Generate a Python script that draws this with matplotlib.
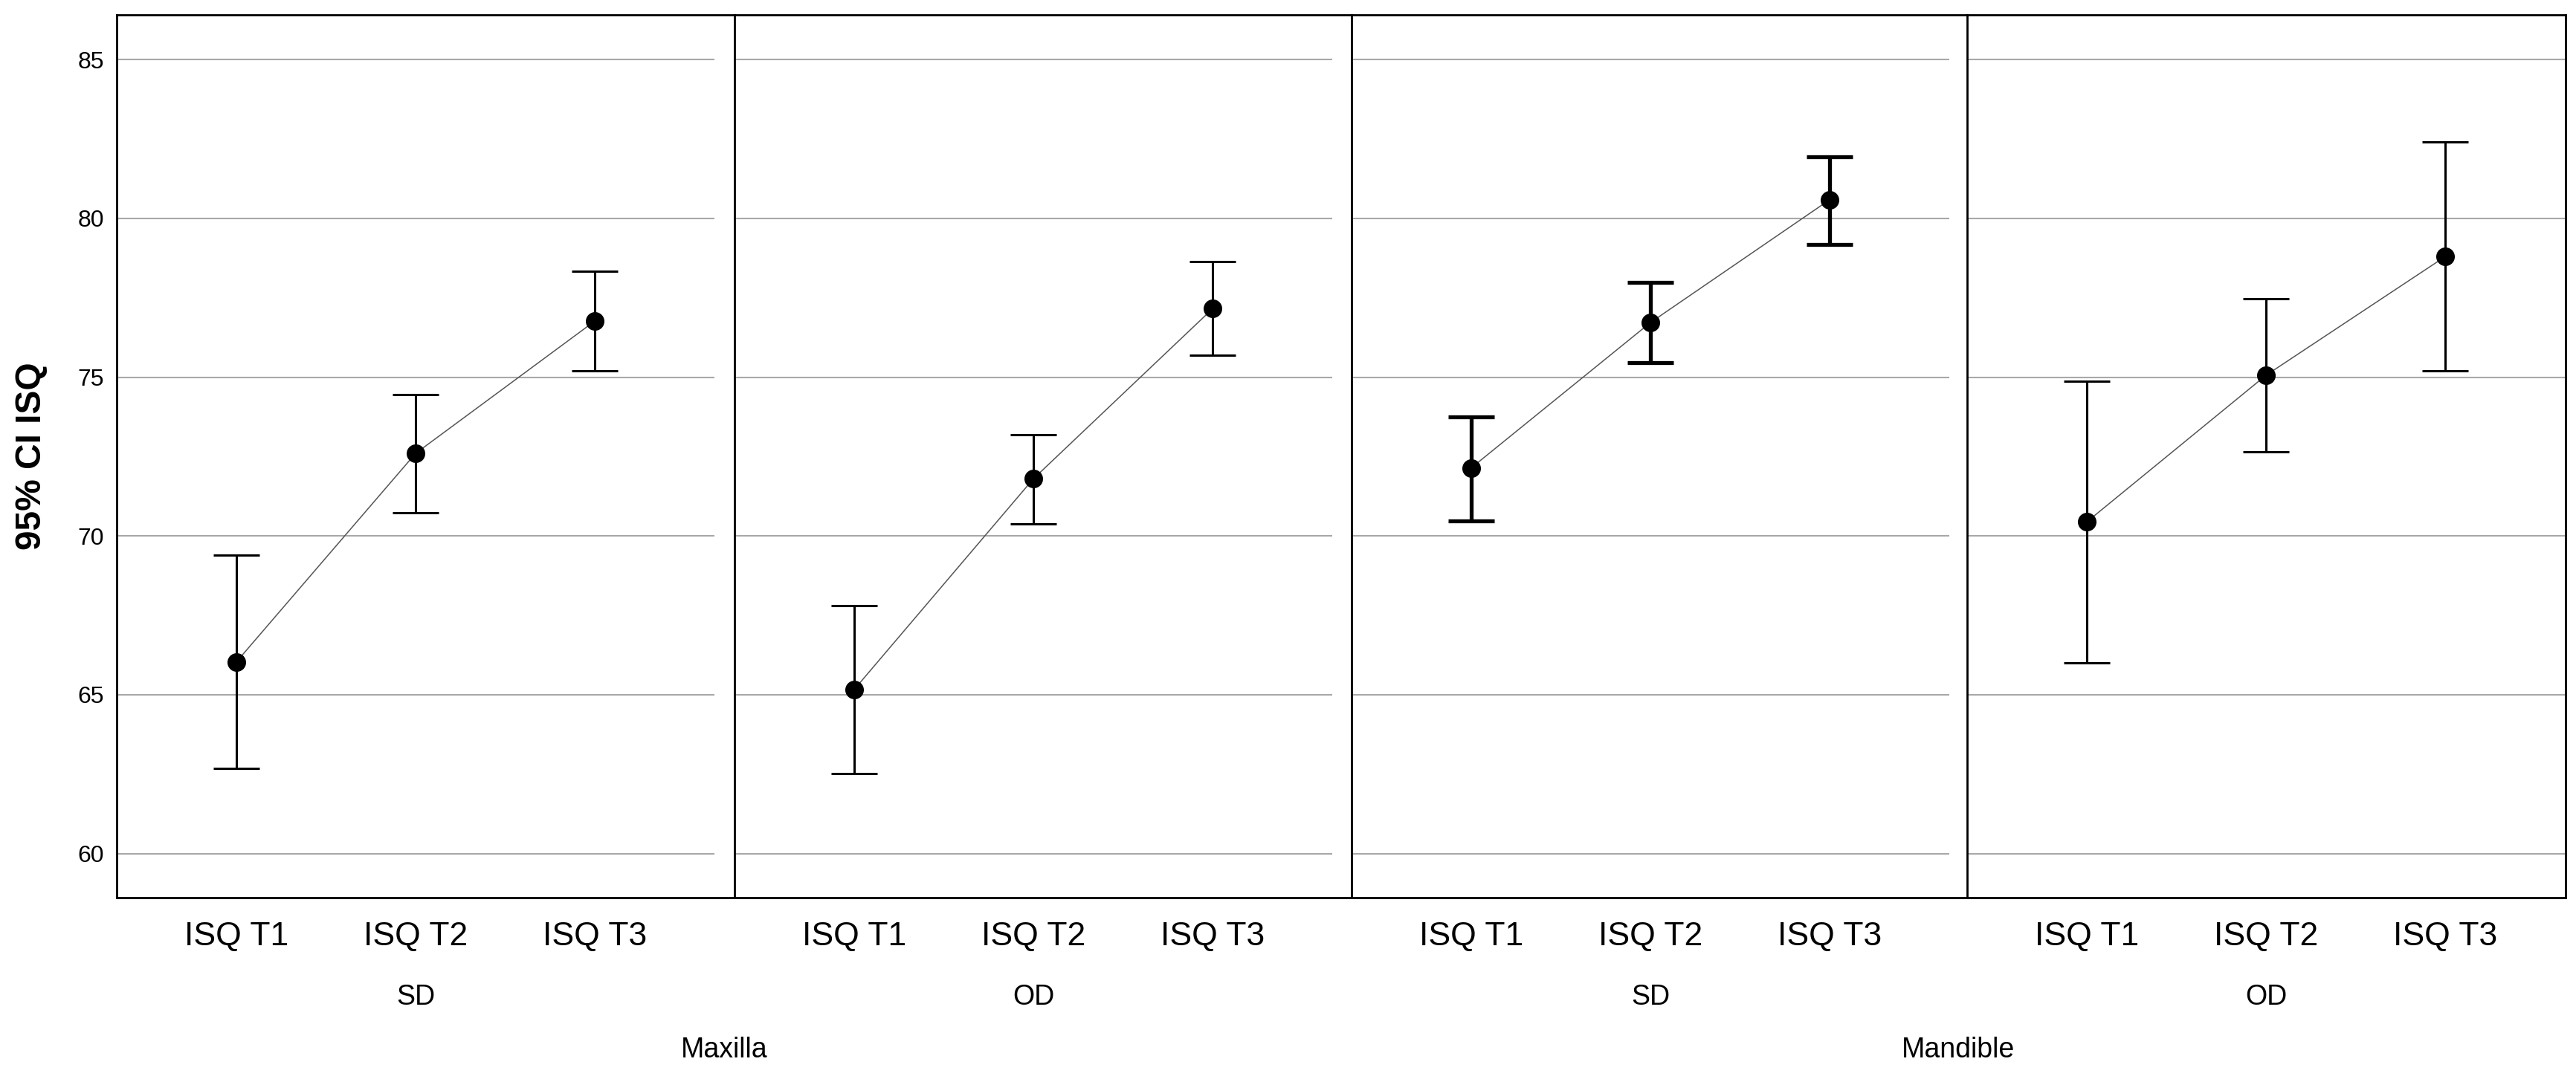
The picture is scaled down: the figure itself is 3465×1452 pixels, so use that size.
import matplotlib
matplotlib.use("Agg")
import matplotlib.pyplot as plt

plt.rcParams['font.family'] = ['Liberation Sans', 'DejaVu Sans']

# data
categories = ['ISQ T1', 'ISQ T2', 'ISQ T3']
groups = ['SD', 'OD', 'SD', 'OD']
jaws = ['Maxilla', 'Mandible']
means = [[66.03, 72.60, 76.77],
         [65.16, 71.80, 77.16],
         [72.14, 76.72, 80.59],
         [70.44, 75.06, 78.80]]
lower = [[62.68, 70.74, 75.19],
         [62.51, 70.37, 75.69],
         [70.48, 75.47, 79.17],
         [66.01, 72.64, 75.19]]
upper = [[69.40, 74.46, 78.34],
         [67.80, 73.18, 78.65],
         [73.76, 77.98, 81.95],
         [74.87, 77.48, 82.41]]
yticks = [60, 65, 70, 75, 80, 85]

W, H = 3466, 1452
fig = plt.figure(figsize=(W / 100, H / 100), dpi=100)

top_px, bot_px = 20, 1208
lefts = [157, 988, 1818, 2646]
pw = 804
b = 1 - bot_px / H
h = (bot_px - top_px) / H

# outer frame
frame = fig.add_axes([lefts[0] / W, b, (lefts[-1] + pw + 1 - lefts[0]) / W, h])
frame.set_xticks([])
frame.set_yticks([])
frame.patch.set_alpha(0)
for s in frame.spines.values():
    s.set_linewidth(2.0)
    s.set_color('black')
frame.set_zorder(5)

bar_lw = [2.2, 2.2, 3.8, 2.2]
axes = []
for i in range(4):
    ax = fig.add_axes([lefts[i] / W, b, pw / W, h])
    axes.append(ax)
    x = range(len(categories))
    m = means[i]
    err = [[m[k] - lower[i][k] for k in range(3)], [upper[i][k] - m[k] for k in range(3)]]
    ax.plot(x, m, color='#555555', lw=1.1, zorder=3)
    ax.errorbar(x, m, yerr=err, fmt='none', ecolor='black', elinewidth=bar_lw[i],
                capsize=22, capthick=bar_lw[i], zorder=4)
    ax.plot(x, m, 'o', color='black', markersize=17, zorder=5)
    ax.set_xlim(-2 / 3, 8 / 3)
    ax.set_ylim(58.61, 86.41)
    ax.set_yticks(yticks)
    ax.yaxis.grid(True, color='#a8a8a8', lw=1.5)
    ax.set_axisbelow(True)
    ax.set_xticks(list(x))
    ax.set_xticklabels(categories, fontsize=32)
    ax.tick_params(axis='x', length=0, pad=23)
    ax.tick_params(axis='y', length=0, pad=12, labelsize=23)
    for s in ['top', 'bottom', 'right']:
        ax.spines[s].set_visible(False)
    ax.spines['left'].set_linewidth(2.0)
    if i == 0:
        ax.spines['left'].set_visible(False)
    else:
        ax.set_yticklabels([])
    ax.patch.set_alpha(0)
    cx = (lefts[i] + pw / 2) / W
    fig.text(cx, 1 - 1342 / H, groups[i], ha='center', va='center', fontsize=27)

for j, jaw in enumerate(jaws):
    cx = (lefts[2 * j] + lefts[2 * j + 1] + pw) / 2 / W
    fig.text(cx, 1 - 1413 / H, jaw, ha='center', va='center', fontsize=27)

fig.text(43 / W, b + h / 2, '95% CI ISQ', rotation=90, ha='center', va='center',
         fontsize=34.5, fontweight='bold')

fig.savefig('out.png', dpi=100)
